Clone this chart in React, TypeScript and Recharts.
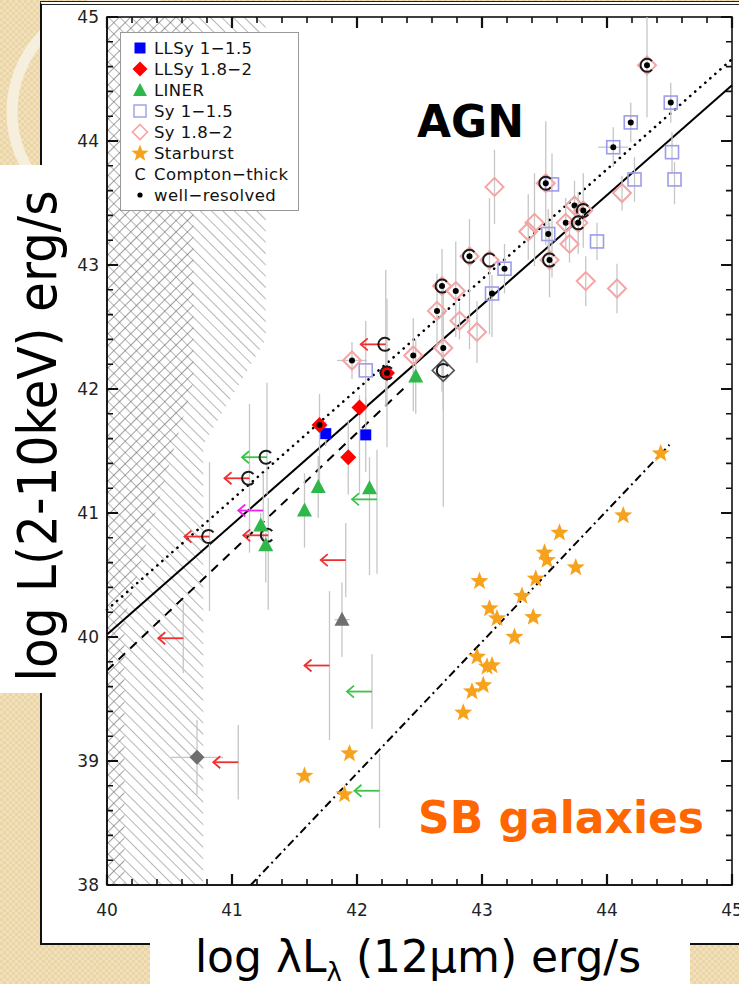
import React from 'react';
import { ScatterChart, Scatter, XAxis, YAxis, ErrorBar, ReferenceLine, ReferenceArea } from 'recharts';

type Pt = { x: number; y: number; err?: [number, number]; xerr?: [number, number]; ct?: boolean; wr?: boolean };

// axis ticks
const xMajor = [40, 41, 42, 43, 44, 45];
const yMajor = [38, 39, 40, 41, 42, 43, 44, 45];
const xMinor = [40, 40.2, 40.4, 40.6, 40.8, 41, 41.2, 41.4, 41.6, 41.8, 42, 42.2, 42.4, 42.6, 42.8,
  43, 43.2, 43.4, 43.6, 43.8, 44, 44.2, 44.4, 44.6, 44.8, 45];
const yMinor = [38, 38.2, 38.4, 38.6, 38.8, 39, 39.2, 39.4, 39.6, 39.8, 40, 40.2, 40.4, 40.6, 40.8,
  41, 41.2, 41.4, 41.6, 41.8, 42, 42.2, 42.4, 42.6, 42.8, 43, 43.2, 43.4, 43.6, 43.8,
  44, 44.2, 44.4, 44.6, 44.8, 45];

// low-luminosity Seyfert 1-1.5
const llsy1: Pt[] = [
  { x: 41.75, y: 41.64, err: [0.1, 0.1] },
  { x: 42.07, y: 41.63, err: [0.3, 0.3] },
];

// low-luminosity Seyfert 1.8-2
const llsy2: Pt[] = [
  { x: 42.24, y: 42.13, err: [0.6, 0.6], ct: true, wr: true },
  { x: 42.02, y: 41.85, err: [0.7, 0.1] },
  { x: 41.70, y: 41.71, err: [0.5, 0.25], wr: true },
  { x: 41.93, y: 41.45, err: [0.3, 0.3] },
];

const liners: Pt[] = [
  { x: 42.47, y: 42.10, err: [0.3, 0.3] },
  { x: 41.69, y: 41.21, err: [0.25, 0.25] },
  { x: 42.10, y: 41.20, err: [0.7, 0.25] },
  { x: 41.58, y: 41.02, err: [0.3, 0.3] },
  { x: 41.23, y: 40.90, err: [0.1, 0.1] },
  { x: 41.27, y: 40.74, err: [0.3, 0.1] },
];

// Seyfert 1-1.5
const sy1: Pt[] = [
  { x: 44.51, y: 44.31, err: [0.16, 0.16], wr: true },
  { x: 44.19, y: 44.15, err: [0.16, 0.16], wr: true },
  { x: 44.05, y: 43.95, err: [0.16, 0.16], xerr: [0.12, 0.12], wr: true },
  { x: 44.52, y: 43.91, err: [0.16, 0.16] },
  { x: 44.22, y: 43.69, err: [0.18, 0.18] },
  { x: 44.54, y: 43.69, err: [0.2, 0.14] },
  { x: 43.56, y: 43.65, err: [0.75, 0.25] },
  { x: 43.53, y: 43.25, err: [0.2, 0.2], wr: true },
  { x: 43.92, y: 43.19, err: [0.15, 0.15] },
  { x: 43.18, y: 42.97, err: [0.2, 0.2], wr: true },
  { x: 43.08, y: 42.77, err: [0.35, 0.15], wr: true },
  { x: 42.07, y: 42.15, err: [0.3, 0.4] },
];

// Seyfert 1.8-2
const sy2: Pt[] = [
  { x: 44.32, y: 44.61, err: [0.42, 0.39], ct: true, wr: true },
  { x: 43.10, y: 43.63, err: [0.3, 0.3] },
  { x: 43.51, y: 43.66, err: [0.5, 0.5], ct: true, wr: true },
  { x: 44.12, y: 43.58, err: [0.14, 0.14] },
  { x: 43.74, y: 43.48, err: [0.2, 0.2], wr: true },
  { x: 43.81, y: 43.44, err: [0.3, 0.3], ct: true, wr: true },
  { x: 43.67, y: 43.34, err: [0.2, 0.2], wr: true },
  { x: 43.77, y: 43.34, err: [0.25, 0.25], ct: true, wr: true },
  { x: 43.42, y: 43.34, err: [0.35, 0.4] },
  { x: 43.37, y: 43.27, err: [0.23, 0.3] },
  { x: 43.70, y: 43.17, err: [0.15, 0.15] },
  { x: 43.06, y: 43.04, err: [0.6, 0.5], ct: true },
  { x: 43.54, y: 43.04, err: [0.3, 0.3], ct: true, wr: true },
  { x: 43.83, y: 42.87, err: [0.2, 0.2] },
  { x: 44.08, y: 42.81, err: [0.2, 0.2] },
  { x: 42.90, y: 43.07, err: [0.75, 0.3], ct: true, wr: true },
  { x: 42.68, y: 42.83, err: [0.85, 0.3], ct: true, wr: true },
  { x: 42.79, y: 42.79, err: [0.37, 0.4], wr: true },
  { x: 42.64, y: 42.63, err: [0.3, 0.3], wr: true },
  { x: 42.82, y: 42.55, err: [0.15, 0.15] },
  { x: 42.96, y: 42.46, err: [0.25, 0.25] },
  { x: 42.69, y: 42.33, err: [0.5, 0.5], wr: true },
  { x: 41.96, y: 42.23, err: [0.15, 0.15], xerr: [0.12, 0.12], wr: true },
  { x: 42.45, y: 42.27, err: [0.45, 0.3], wr: true },
];

// sources drawn in grey / outline only
const heavyCt: Pt[] = [{ x: 42.69, y: 42.15, err: [1.1, 0.1], ct: true }];
const greyLiner: Pt[] = [{ x: 41.88, y: 40.14, err: [0.3, 0.3], xerr: [0.06, 0.06] }];
const greySy: Pt[] = [{ x: 40.72, y: 39.03, err: [0.3, 0.3], xerr: [0.21, 0.21] }];

// 12um upper limits
const llsy2Limits: Pt[] = [
  { x: 42.23, y: 42.36, err: [0.5, 0.6], ct: true },
  { x: 41.14, y: 41.28, err: [0.6, 0.6], ct: true },
  { x: 40.82, y: 40.81, err: [0.6, 0.6], ct: true },
  { x: 41.29, y: 40.82, err: [0.6, 0.3], ct: true },
  { x: 41.91, y: 40.62, err: [0.3, 0.3] },
  { x: 40.61, y: 39.99, err: [0.28, 0.28] },
  { x: 41.78, y: 39.77, err: [0.6, 0.6] },
  { x: 41.05, y: 38.99, err: [0.3, 0.3] },
];
const linerLimits: Pt[] = [
  { x: 41.28, y: 41.45, err: [0.3, 0.6], ct: true },
  { x: 42.16, y: 41.11, err: [0.6, 0.4] },
  { x: 42.12, y: 39.56, err: [0.3, 0.3] },
  { x: 42.18, y: 38.76, err: [0.3, 0.3] },
];
const otherLimits: Pt[] = [{ x: 41.25, y: 41.02, err: [0.3, 0.3] }];

const starbursts: Pt[] = [
  { x: 44.43, y: 41.48 }, { x: 44.13, y: 40.98 }, { x: 43.62, y: 40.84 }, { x: 43.50, y: 40.68 },
  { x: 43.52, y: 40.62 }, { x: 43.75, y: 40.56 }, { x: 42.98, y: 40.45 }, { x: 43.43, y: 40.47 },
  { x: 43.32, y: 40.33 }, { x: 43.06, y: 40.23 }, { x: 43.12, y: 40.15 }, { x: 43.41, y: 40.16 },
  { x: 43.26, y: 40.00 }, { x: 42.96, y: 39.84 }, { x: 43.04, y: 39.76 }, { x: 43.08, y: 39.77 },
  { x: 43.01, y: 39.61 }, { x: 42.92, y: 39.56 }, { x: 42.85, y: 39.39 }, { x: 41.58, y: 38.88 },
  { x: 41.94, y: 39.06 }, { x: 41.90, y: 38.73 },
];

// fitted relations, end points
const fitAll = [{ x: 40, y: 40.02 }, { x: 45, y: 44.45 }];
const fitWellResolved = [{ x: 40, y: 40.22 }, { x: 45, y: 44.66 }];
const fitLowLum = [{ x: 40, y: 39.73 }, { x: 42.4, y: 42.03 }];
const fitStarburst = [{ x: 41.15, y: 38 }, { x: 44.5, y: 41.55 }];

// 12um sensitivity-excluded zones (outline vertices)
const shallowZone = [[40, 45], [41.27, 45], [41.27, 42.4], [40.77, 41.55], [40.77, 38], [40, 38]];
const deepZone = [[40, 45], [40.69, 45], [40.69, 42.05], [40.14, 40.15], [40.14, 38], [40, 38]];

const legendItems = ['LLSy 1−1.5', 'LLSy 1.8−2', 'LINER', 'Sy 1−1.5', 'Sy 1.8−2', 'Starburst', 'Compton−thick', 'well−resolved'];

const COL = {
  llsy1: '#0000ff', llsy2: '#ff0000', liner: '#2fb84a', sy1: '#9c9ce8', sy2: '#f4a4a4',
  star: '#f7a21c', err: '#c6c6c6', arrowRed: '#f03030', arrowGreen: '#3cc34a', arrowMag: '#ee22ee',
};

const X_DOMAIN: [number, number] = [40, 45];
const Y_DOMAIN: [number, number] = [38, 45];

const withErr = (pts: Pt[]) => pts.map((p) => ({ ...p, err: p.err ?? [0, 0], xerr: p.xerr ?? [0, 0] }));

const isMajor = (v: number) => Math.abs(v - Math.round(v)) < 1e-6;

function starPath(cx: number, cy: number, ro: number, ri: number) {
  let d = '';
  for (let i = 0; i < 10; i++) {
    const r = i % 2 ? ri : ro;
    const a = -Math.PI / 2 + (i * Math.PI) / 5;
    d += (i ? 'L' : 'M') + (cx + r * Math.cos(a)).toFixed(2) + ' ' + (cy + r * Math.sin(a)).toFixed(2);
  }
  return d + 'Z';
}

const CMark = ({ cx, cy }: { cx: number; cy: number }) => (
  <path d={`M${cx + 5} ${cy - 4.2} A6.5 6.5 0 1 0 ${cx + 5} ${cy + 4.2}`} fill="none" stroke="#1a1a1a" strokeWidth={2} />
);

const flags = (p: any) => (
  <>
    {p.payload?.ct && <CMark cx={p.cx} cy={p.cy} />}
    {p.payload?.wr && <circle cx={p.cx} cy={p.cy} r={3} fill="#000" />}
  </>
);

const diamond = (cx: number, cy: number, h: number) => `${cx},${cy - h} ${cx + h},${cy} ${cx},${cy + h} ${cx - h},${cy}`;

const shapes = {
  llsy1: (p: any) => (<g><rect x={p.cx - 5.5} y={p.cy - 5.5} width={11} height={11} fill={COL.llsy1} />{flags(p)}</g>),
  llsy2: (p: any) => (<g><polygon points={diamond(p.cx, p.cy, 8)} fill={COL.llsy2} />{flags(p)}</g>),
  liner: (p: any) => (<g><polygon points={`${p.cx},${p.cy - 8} ${p.cx + 7.5},${p.cy + 6} ${p.cx - 7.5},${p.cy + 6}`} fill={COL.liner} />{flags(p)}</g>),
  sy1: (p: any) => (<g><rect x={p.cx - 6.5} y={p.cy - 6.5} width={13} height={13} fill="none" stroke={COL.sy1} strokeWidth={1.6} />{flags(p)}</g>),
  sy2: (p: any) => (<g><polygon points={diamond(p.cx, p.cy, 9)} fill="none" stroke={COL.sy2} strokeWidth={2} />{flags(p)}</g>),
  heavy: (p: any) => (<g><polygon points={diamond(p.cx, p.cy, 11)} fill="none" stroke="#555" strokeWidth={1.6} />{flags(p)}</g>),
  greyTri: (p: any) => <polygon points={`${p.cx},${p.cy - 8} ${p.cx + 7.5},${p.cy + 6} ${p.cx - 7.5},${p.cy + 6}`} fill="#6e6e6e" />,
  greyDia: (p: any) => <polygon points={diamond(p.cx, p.cy, 7.5)} fill="#6e6e6e" />,
  star: (p: any) => <path d={starPath(p.cx, p.cy, 9.5, 4)} fill={COL.star} />,
};

const arrowShape = (color: string) => (p: any) => (
  <g>
    <g stroke={color} strokeWidth={1.8} fill="none">
      <line x1={p.cx} y1={p.cy} x2={p.cx - 25} y2={p.cy} />
      <polyline points={`${p.cx - 18},${p.cy - 6} ${p.cx - 25},${p.cy} ${p.cx - 18},${p.cy + 6}`} />
    </g>
    {p.payload?.ct && <CMark cx={p.cx - 1} cy={p.cy} />}
  </g>
);

// frame with inward major/minor ticks on all four sides; the area spans the full domain
const frameShape = (p: any) => {
  const { x, y, width, height } = p;
  const px = (v: number) => x + ((v - X_DOMAIN[0]) / (X_DOMAIN[1] - X_DOMAIN[0])) * width;
  const py = (v: number) => y + ((Y_DOMAIN[1] - v) / (Y_DOMAIN[1] - Y_DOMAIN[0])) * height;
  const b = y + height, r = x + width;
  let major = '', minor = '';
  xMinor.forEach((v) => {
    const len = isMajor(v) ? 11 : 6;
    const seg = `M${px(v)} ${b}v${-len}M${px(v)} ${y}v${len}`;
    if (isMajor(v)) major += seg; else minor += seg;
  });
  yMinor.forEach((v) => {
    const len = isMajor(v) ? 11 : 6;
    const seg = `M${x} ${py(v)}h${len}M${r} ${py(v)}h${-len}`;
    if (isMajor(v)) major += seg; else minor += seg;
  });
  return (
    <g fill="none" stroke="#111">
      <path d={minor} strokeWidth={1.6} />
      <path d={major} strokeWidth={2.2} />
      <rect x={x} y={y} width={width} height={height} strokeWidth={1.6} />
    </g>
  );
};

const hatchShape = (p: any) => {
  const { x, y, width, height } = p;
  const px = (d: number) => x + ((d - 40) / 1.3) * width;
  const py = (d: number) => y + ((45 - d) / 7) * height;
  const pts = (zone: number[][]) => zone.map(([a, b]) => `${px(a)},${py(b)}`).join(' ');
  return (
    <g>
      <defs>
        <pattern id="hatchBack" width="8" height="8" patternUnits="userSpaceOnUse" patternTransform="rotate(-45)">
          <line x1="0" y1="0" x2="0" y2="8" stroke="#8f8f8f" strokeWidth="1.3" />
        </pattern>
        <pattern id="hatchFwd" width="8" height="8" patternUnits="userSpaceOnUse" patternTransform="rotate(45)">
          <line x1="0" y1="0" x2="0" y2="8" stroke="#6a6a6a" strokeWidth="1.3" />
        </pattern>
      </defs>
      <polygon points={pts(shallowZone)} fill="url(#hatchBack)" />
      <polygon points={pts(deepZone)} fill="url(#hatchFwd)" />
    </g>
  );
};

const legendIcon = (i: number) => {
  const c = 9;
  switch (i) {
    case 0: return <rect x={c - 5.5} y={c - 5.5} width={11} height={11} fill={COL.llsy1} />;
    case 1: return <polygon points={diamond(c, c, 7.5)} fill={COL.llsy2} />;
    case 2: return <polygon points={`${c},${c - 7} ${c + 7},${c + 6} ${c - 7},${c + 6}`} fill={COL.liner} />;
    case 3: return <rect x={c - 6} y={c - 6} width={12} height={12} fill="none" stroke={COL.sy1} strokeWidth={1.4} />;
    case 4: return <polygon points={diamond(c, c, 7.5)} fill="none" stroke={COL.sy2} strokeWidth={1.6} />;
    case 5: return <path d={starPath(c, c + 0.5, 9, 3.8)} fill={COL.star} />;
    case 6: return <text x={c} y={c + 5.5} textAnchor="middle" fontSize={16} fontFamily="DejaVu Sans" fill="#111">C</text>;
    default: return <circle cx={c} cy={c} r={2.6} fill="#000" />;
  }
};

export default function App() {
  const ax = { xAxisId: 'x', yAxisId: 'y' };
  const errBar = (
    <ErrorBar dataKey="err" direction="y" width={0} stroke={COL.err} strokeWidth={1.3} />
  );
  const errBarX = (
    <ErrorBar dataKey="xerr" direction="x" width={0} stroke={COL.err} strokeWidth={1.3} />
  );
  return (
    <div style={{
      position: 'absolute', left: 0, top: 0, width: 739, height: 984, overflow: 'hidden',
      background: 'repeating-conic-gradient(#f1e0ba 0 25%, #ead5a8 0 50%) 0 0 / 6px 6px',
      fontFamily: 'DejaVu Sans',
    }}>
      <svg width={200} height={230} style={{ position: 'absolute', left: 0, top: 0 }}>
        <circle cx={124} cy={112} r={112} fill="none" stroke="#f7efdd" strokeWidth={11} />
      </svg>
      <div style={{
        position: 'absolute', left: 40, top: 1, width: 699, height: 944, boxSizing: 'border-box',
        background: '#fff', borderLeft: '2px solid #111', borderTop: '4px double #222', borderBottom: '2px solid #111',
      }} />
      <div style={{ position: 'absolute', left: 0, top: 0 }}>
        <ScatterChart width={739} height={930} margin={{ top: 17, right: 7, bottom: 15, left: 47 }}>
          <XAxis xAxisId="x" type="number" dataKey="x" domain={X_DOMAIN} ticks={xMajor} allowDataOverflow
            interval={0} tickLine={false} tickSize={0} tickMargin={19} height={30}
            axisLine={{ stroke: '#111', strokeWidth: 1.5 }}
            tick={{ fontSize: 17, fill: '#222', fontFamily: 'DejaVu Sans' }} />
          <YAxis yAxisId="y" type="number" dataKey="y" domain={Y_DOMAIN} ticks={yMajor} allowDataOverflow
            interval={0} tickLine={false} tickSize={0} tickMargin={8} width={60}
            axisLine={{ stroke: '#111', strokeWidth: 1.5 }}
            tick={{ fontSize: 17, fill: '#222', fontFamily: 'DejaVu Sans' }} />

          <ReferenceArea {...ax} x1={40} x2={41.3} y1={38} y2={45} shape={hatchShape} ifOverflow="hidden" />
          <ReferenceArea {...ax} x1={X_DOMAIN[0]} x2={X_DOMAIN[1]} y1={Y_DOMAIN[0]} y2={Y_DOMAIN[1]} shape={frameShape} ifOverflow="visible" />

          <ReferenceLine {...ax} segment={fitAll} stroke="#000" strokeWidth={2} />
          <ReferenceLine {...ax} segment={fitWellResolved} stroke="#000" strokeWidth={2.6} strokeDasharray="0.1 6.6" strokeLinecap="round" />
          <ReferenceLine {...ax} segment={fitLowLum} stroke="#000" strokeWidth={2} strokeDasharray="9 7" />
          <ReferenceLine {...ax} segment={fitStarburst} stroke="#000" strokeWidth={2} strokeDasharray="8 4 2 4" />

          <Scatter {...ax} data={starbursts} shape={shapes.star} isAnimationActive={false} />
          <Scatter {...ax} data={withErr(greySy)} shape={shapes.greyDia} isAnimationActive={false}>{errBar}{errBarX}</Scatter>
          <Scatter {...ax} data={withErr(greyLiner)} shape={shapes.greyTri} isAnimationActive={false}>{errBar}{errBarX}</Scatter>
          <Scatter {...ax} data={withErr(llsy2Limits)} shape={arrowShape(COL.arrowRed)} isAnimationActive={false}>{errBar}</Scatter>
          <Scatter {...ax} data={withErr(linerLimits)} shape={arrowShape(COL.arrowGreen)} isAnimationActive={false}>{errBar}</Scatter>
          <Scatter {...ax} data={withErr(otherLimits)} shape={arrowShape(COL.arrowMag)} isAnimationActive={false}>{errBar}</Scatter>
          <Scatter {...ax} data={withErr(liners)} shape={shapes.liner} isAnimationActive={false}>{errBar}</Scatter>
          <Scatter {...ax} data={withErr(heavyCt)} shape={shapes.heavy} isAnimationActive={false}>{errBar}</Scatter>
          <Scatter {...ax} data={withErr(sy1)} shape={shapes.sy1} isAnimationActive={false}>{errBar}{errBarX}</Scatter>
          <Scatter {...ax} data={withErr(sy2)} shape={shapes.sy2} isAnimationActive={false}>{errBar}{errBarX}</Scatter>
          <Scatter {...ax} data={withErr(llsy1)} shape={shapes.llsy1} isAnimationActive={false}>{errBar}</Scatter>
          <Scatter {...ax} data={withErr(llsy2)} shape={shapes.llsy2} isAnimationActive={false}>{errBar}</Scatter>
        </ScatterChart>
      </div>

      <svg width={739} height={984} style={{ position: 'absolute', left: 0, top: 0, pointerEvents: 'none' }}>
        <text x={417} y={137} fontSize={44} fontWeight="bold" fontFamily="DejaVu Sans" fill="#000">AGN</text>
        <text x={418} y={833} fontSize={44} fontWeight="bold" fontFamily="DejaVu Sans" fill="#ff6600">SB galaxies</text>
        <rect x={0} y={165} width={76} height={528} fill="#fff" />
        <text transform="translate(56,436) rotate(-90)" textAnchor="middle" fontSize={54}
          fontFamily="DejaVu Sans Condensed, DejaVu Sans" fill="#000">log L(2-10keV) erg/s</text>
        <rect x={150} y={933} width={540} height={51} fill="#fff" />
        <text x={418} y={972} textAnchor="middle" fontSize={44} fontFamily="DejaVu Sans" fill="#000">
          log λL<tspan fontSize={26} dy={9}>λ</tspan><tspan dy={-9}> (12μm) erg/s</tspan>
        </text>
      </svg>

      <div style={{
        position: 'absolute', left: 120, top: 32, width: 179, height: 179, boxSizing: 'border-box',
        background: '#fff', border: '1px solid #999',
      }}>
        {legendItems.map((label, i) => (
          <div key={label} style={{ position: 'absolute', left: 0, top: 5 + i * 21, height: 20, display: 'flex', alignItems: 'center' }}>
            <svg width={18} height={18} style={{ marginLeft: 10 }}>{legendIcon(i)}</svg>
            <span style={{ marginLeft: 5, fontSize: 16.5, color: '#111', letterSpacing: 0.4, whiteSpace: 'nowrap' }}>{label}</span>
          </div>
        ))}
      </div>
    </div>
  );
}
